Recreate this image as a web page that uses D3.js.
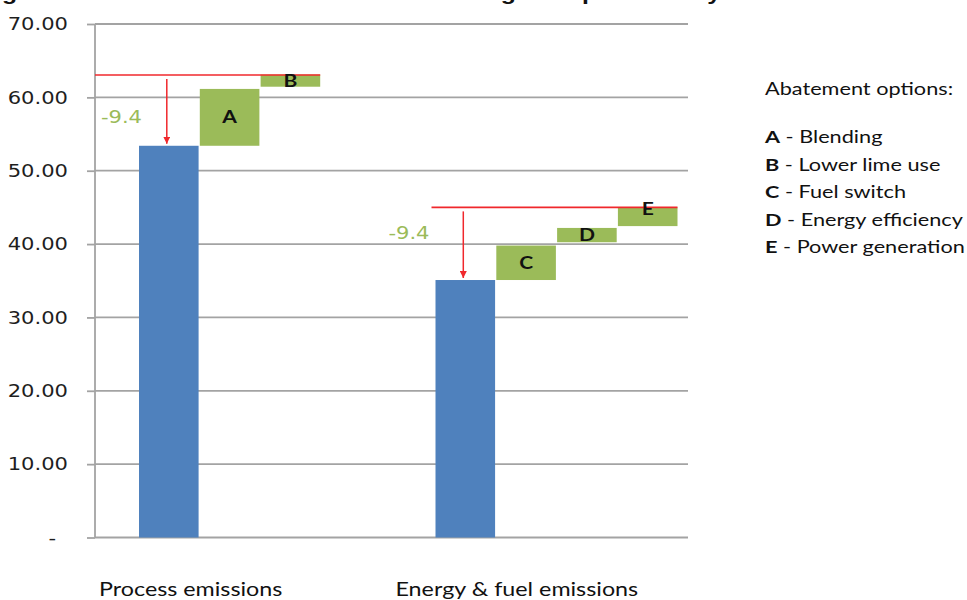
<!DOCTYPE html>
<html>
<head>
<meta charset="utf-8">
<script src="https://cdn.jsdelivr.net/npm/d3@7"></script>
<style>
  html, body { margin: 0; padding: 0; background: #fff; }
  svg { display: block; }
</style>
</head>
<body>
<svg id="chart" width="967" height="600"></svg>
<script>
// ---- data ----
const categories = ["Process emissions", "Energy & fuel emissions"];
const baselineEmissions = [63.05, 45.0];     // emissions before abatement
const remainingEmissions = [53.4, 35.1];     // emissions after abatement
const reductionLabels = ["-9.4", "-9.4"];

const optionKeys = ["A", "B", "C", "D", "E"];
const optionNames = ["Blending", "Lower lime use", "Fuel switch", "Energy efficiency", "Power generation"];
const optionCategory = [0, 0, 1, 1, 1];
const optionLow = [53.4, 61.45, 35.1, 40.25, 42.45];
const optionHigh = [61.15, 63.1, 39.8, 42.2, 45.0];

const yTicks = [0, 10, 20, 30, 40, 50, 60, 70];
const titleText = "Figure 3 - Cement sector emissions and mitigation potential by 2030";
const legendTitle = "Abatement options:";

// ---- styling ----
const BLUE = "#4F81BD", GREEN = "#9BBB59", RED = "#F0282C", GRID = "#A3A3A3";
const sx = 1.24; // horizontal text stretch
const bodyFont = "Lato, 'Open Sans', sans-serif";
const axisFont = "'DejaVu Sans', Verdana, sans-serif";

const svg = d3.select("#chart");

const y = d3.scaleLinear().domain([0, 70]).range([537.5, 24]);
const x = d3.scaleBand().domain(categories).range([95, 688]).padding(0);
const slot = d3.scaleBand().domain([0, 1, 2, 3]).range([44, 286]).paddingInner(0.02);

// place a horizontally stretched text
function stretched(sel, px, py) {
  return sel.attr("x", 0).attr("y", 0)
    .attr("transform", `translate(${px},${py}) scale(${sx},1)`);
}

// ---- title (runs off the top edge, only its descenders show) ----
stretched(svg.append("text"), -20, -0.5)
  .attr("font-family", "'Liberation Sans', Arial, sans-serif")
  .attr("font-weight", "bold")
  .attr("font-size", 20)
  .attr("fill", "#111")
  .text(titleText);

// ---- gridlines and y axis ----
const axis = d3.axisLeft(y)
  .tickValues(yTicks)
  .tickSize(8)
  .tickFormat(d => d === 0 ? "-" : d3.format(".2f")(d));

const gAxis = svg.append("g").attr("transform", "translate(95,0)").call(axis);
gAxis.select(".domain").remove();
gAxis.selectAll(".tick line").attr("stroke", GRID).attr("stroke-width", 1.8);
gAxis.selectAll(".tick text")
  .attr("font-family", axisFont)
  .attr("font-size", 17)
  .attr("fill", "#1e1e1e")
  .attr("dy", null)
  .attr("dominant-baseline", "central")
  .attr("x", d => d === 0 ? -39 / sx : -27 / sx)
  .attr("transform", `scale(${sx},1)`);

svg.append("g").selectAll("line")
  .data(yTicks)
  .join("line")
  .attr("x1", 95).attr("x2", 688)
  .attr("y1", d => y(d)).attr("y2", d => y(d))
  .attr("stroke", GRID).attr("stroke-width", 1.8);

svg.append("line")
  .attr("x1", 95).attr("x2", 95)
  .attr("y1", y(70)).attr("y2", y(0))
  .attr("stroke", GRID).attr("stroke-width", 1.8);

// ---- remaining emissions (blue) ----
svg.append("g").selectAll("rect")
  .data(categories)
  .join("rect")
  .attr("x", (c) => x(c) + slot(0))
  .attr("width", slot.bandwidth())
  .attr("y", (c, i) => y(remainingEmissions[i]))
  .attr("height", (c, i) => y(0) - y(remainingEmissions[i]))
  .attr("fill", BLUE);

// ---- abatement options (green floating bars) ----
const options = optionKeys.map((k, i) => ({
  key: k,
  cat: optionCategory[i],
  slot: optionCategory.slice(0, i).filter(c => c === optionCategory[i]).length + 1,
  low: optionLow[i],
  high: optionHigh[i]
}));

svg.append("g").selectAll("rect")
  .data(options)
  .join("rect")
  .attr("x", d => x(categories[d.cat]) + slot(d.slot))
  .attr("width", slot.bandwidth())
  .attr("y", d => y(d.high))
  .attr("height", d => y(d.low) - y(d.high))
  .attr("fill", GREEN);

// ---- baseline lines and reduction arrows ----
const defs = svg.append("defs");
defs.append("marker")
  .attr("id", "arrowHead")
  .attr("viewBox", "0 0 10 10")
  .attr("refX", 10).attr("refY", 5)
  .attr("markerWidth", 7).attr("markerHeight", 7)
  .attr("markerUnits", "userSpaceOnUse")
  .attr("orient", "auto")
  .append("path").attr("d", "M0,0 L10,5 L0,10 Z").attr("fill", RED);

const lineLeftPad = [44, 4];
const lastSlot = categories.map((c, i) => d3.max(options.filter(o => o.cat === i), o => o.slot));

categories.forEach((c, i) => {
  const bx = x(c) + slot(0);
  svg.append("line")
    .attr("x1", bx - lineLeftPad[i])
    .attr("x2", x(c) + slot(lastSlot[i]) + slot.bandwidth())
    .attr("y1", y(baselineEmissions[i])).attr("y2", y(baselineEmissions[i]))
    .attr("stroke", RED).attr("stroke-width", 1.6);

  const ax = bx + slot.bandwidth() / 2 - 2;
  svg.append("line")
    .attr("x1", ax).attr("x2", ax)
    .attr("y1", y(baselineEmissions[i]) + 4)
    .attr("y2", y(remainingEmissions[i]) - 2)
    .attr("stroke", RED).attr("stroke-width", 1.5)
    .attr("marker-end", "url(#arrowHead)");
});

// reduction labels
const redDx = [3, -6], redDy = [6.5, -10];
categories.forEach((c, i) => {
  const mid = (baselineEmissions[i] + remainingEmissions[i]) / 2;
  stretched(svg.append("text"), x(c) + slot(0) + redDx[i], y(mid) + redDy[i])
    .attr("text-anchor", "end")
    .attr("dominant-baseline", "central")
    .attr("font-family", axisFont)
    .attr("font-size", 17)
    .attr("fill", GREEN)
    .text(reductionLabels[i]);
});

// option letters on the bars
const letterDy = { E: -8 };
options.forEach(d => {
  const cx = x(categories[d.cat]) + slot(d.slot) + slot.bandwidth() / 2;
  const cy = (y(d.low) + y(d.high)) / 2 + (letterDy[d.key] || 0);
  stretched(svg.append("text"), cx, cy + 6)
    .attr("text-anchor", "middle")
    .attr("font-family", bodyFont)
    .attr("font-weight", "bold")
    .attr("font-size", 17)
    .attr("fill", "#111")
    .text(d.key);
});

// ---- category labels ----
categories.forEach((c, i) => {
  stretched(svg.append("text"), x(c) + 4, 596)
    .attr("font-family", bodyFont)
    .attr("font-size", 18.8)
    .attr("fill", "#111")
    .text(c);
});

// ---- legend ----
const legend = svg.append("g");
stretched(legend.append("text"), 765, 95)
  .attr("font-family", bodyFont)
  .attr("font-size", 17.5)
  .attr("fill", "#111")
  .text(legendTitle);

optionKeys.forEach((k, i) => {
  const t = stretched(legend.append("text"), 765, 143 + i * 27.5)
    .attr("font-family", bodyFont)
    .attr("font-size", 17.5)
    .attr("fill", "#111");
  t.append("tspan").attr("font-weight", "bold").text(k);
  t.append("tspan").text(" - " + optionNames[i]);
});
</script>
</body>
</html>
